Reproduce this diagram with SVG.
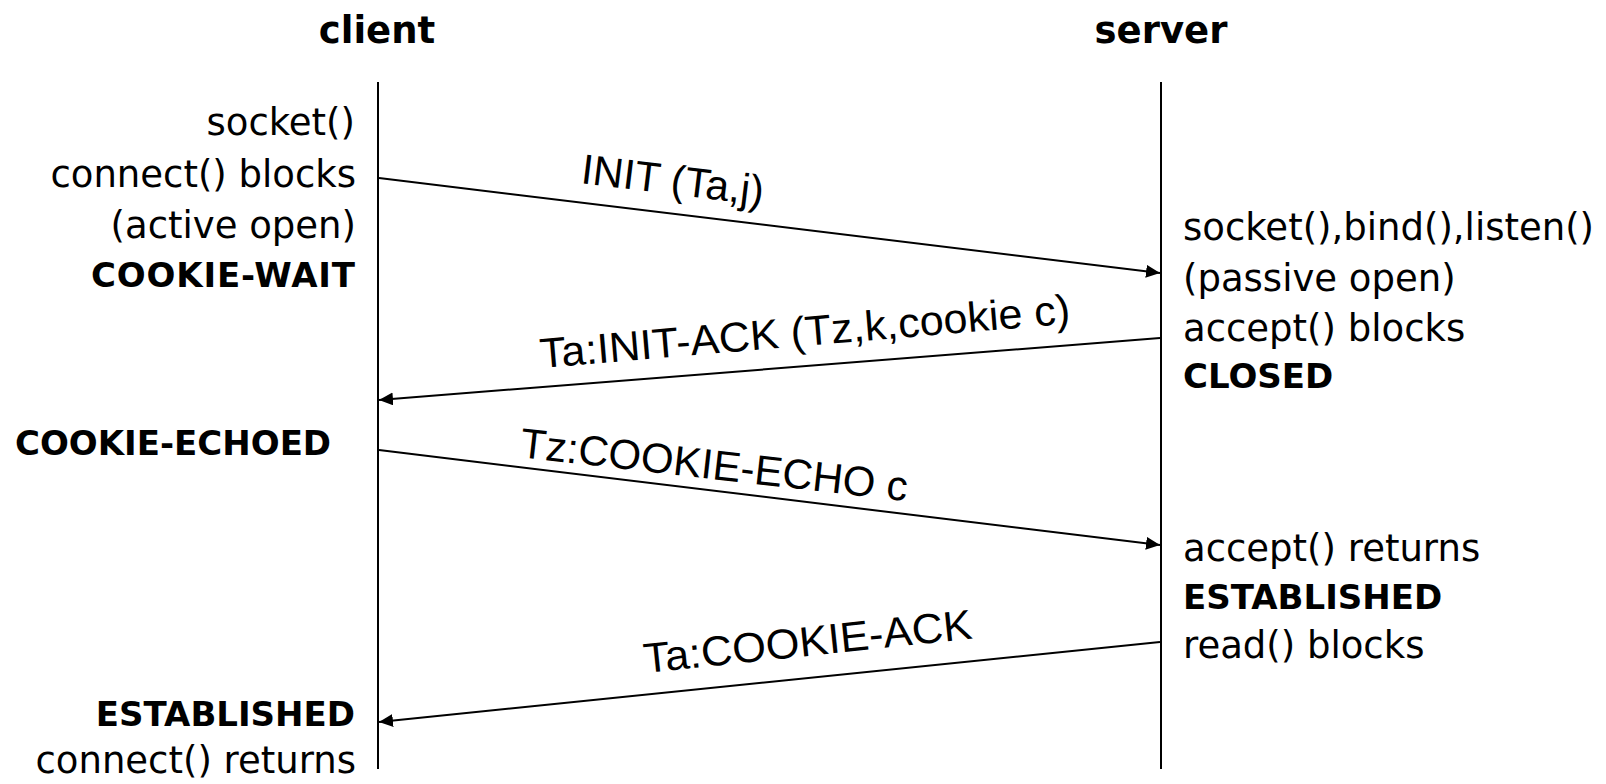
<svg xmlns="http://www.w3.org/2000/svg" width="1606" height="784" viewBox="0 0 1606 784">
<style>
.title{font-family:"DejaVu Sans",Verdana,sans-serif;font-weight:bold;font-size:37px;fill:#000;text-anchor:middle}
.t{font-family:"DejaVu Sans",Verdana,sans-serif;font-size:37px;fill:#000}
.b{font-family:"DejaVu Sans",Verdana,sans-serif;font-weight:bold;font-size:34px;fill:#000}
.r{text-anchor:end}
.lbl{font-family:"Liberation Sans",Arial,sans-serif;font-size:42px;fill:#000}
.life{stroke:#000;stroke-width:2;fill:none}
.msg{stroke:#000;stroke-width:2;fill:none;marker-end:url(#ah)}
</style>
<defs>
<marker id="ah" markerWidth="14" markerHeight="13" refX="14" refY="6.5" orient="auto" markerUnits="userSpaceOnUse">
<path d="M0,0 L14,6.5 L0,13 z" fill="#000"/>
</marker>
</defs>
<rect width="1606" height="784" fill="#fff"/>
<g id="client">
<text class="title" x="377" y="43">client</text>
<line class="life" x1="378" y1="82" x2="378" y2="769"/>
<text class="t r" x="355" y="135">socket()</text>
<text class="t r" x="356" y="187">connect() blocks</text>
<text class="t r" x="356" y="238">(active open)</text>
<text class="b r" x="355" y="287" textLength="264">COOKIE-WAIT</text>
<text class="b" x="15" y="455">COOKIE-ECHOED</text>
<text class="b r" x="355" y="726">ESTABLISHED</text>
<text class="t r" x="356" y="773">connect() returns</text>
</g>
<g id="server">
<text class="title" x="1161" y="43">server</text>
<line class="life" x1="1161" y1="82" x2="1161" y2="769"/>
<text class="t" x="1183" y="240">socket(),bind(),listen()</text>
<text class="t" x="1183" y="291">(passive open)</text>
<text class="t" x="1183" y="341">accept() blocks</text>
<text class="b" x="1183" y="388">CLOSED</text>
<text class="t" x="1183" y="561">accept() returns</text>
<text class="b" x="1183" y="609">ESTABLISHED</text>
<text class="t" x="1183" y="658">read() blocks</text>
</g>
<g id="connectors">
<line class="msg" x1="379" y1="178" x2="1160" y2="273"/>
<line class="msg" x1="1160" y1="338" x2="379" y2="400"/>
<line class="msg" x1="379" y1="450" x2="1160" y2="545"/>
<line class="msg" x1="1160" y1="642" x2="379" y2="722"/>
<text class="lbl" transform="translate(580,183) rotate(7)">INIT (Ta,j)</text>
<text class="lbl" transform="translate(541,368) rotate(-4.8)" textLength="532" lengthAdjust="spacingAndGlyphs">Ta:INIT-ACK (Tz,k,cookie c)</text>
<text class="lbl" transform="translate(519,457) rotate(6.5)">Tz:COOKIE-ECHO c</text>
<text class="lbl" transform="translate(645,673) rotate(-6)" textLength="330" lengthAdjust="spacingAndGlyphs">Ta:COOKIE-ACK</text>
</g>
</svg>
